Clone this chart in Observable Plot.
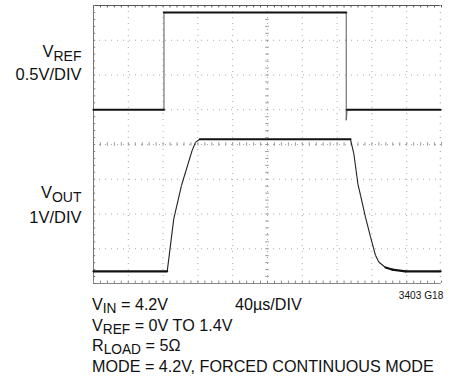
<!DOCTYPE html>
<html><head><meta charset="utf-8">
<script src="https://cdn.jsdelivr.net/npm/d3@7"></script>
<script src="https://cdn.jsdelivr.net/npm/@observablehq/plot@0.6"></script>
<style>
body{margin:0;background:#fff;}
#wrap{position:relative;width:455px;height:378px;font-family:"Liberation Sans",Arial,Helvetica,sans-serif;color:#111;overflow:hidden;}
#chart{position:absolute;left:0;top:0;}
.note{position:absolute;font-size:17px;line-height:19.5px;white-space:nowrap;transform:scaleX(0.95);transform-origin:0 0;}
.sub{font-size:0.85em;position:relative;top:0.22em;}
.code{position:absolute;font-size:11px;white-space:nowrap;transform:scaleX(0.92);transform-origin:100% 0;}
</style></head><body>
<div id="wrap"><div id="chart"></div>
<div class="note" style="left:92px;top:295px">V<span class="sub">IN</span> = 4.2V<br>V<span class="sub">REF</span> = 0V TO 1.4V<br>R<span class="sub">LOAD</span> = 5Ω<br>MODE = 4.2V, FORCED CONTINUOUS MODE</div>
<div class="note" style="left:235px;top:295px">40µs/DIV</div>
<div class="code" style="right:12px;top:289px">3403 G18</div>
</div>
<script>
// Time axis: 40 µs per division, 10 divisions
const gridX = [0, 40, 80, 120, 160, 200, 240, 280, 320, 360, 400];
// Vertical: 8 divisions
const gridY = [0, 1, 2, 3, 4, 5, 6, 7, 8];
// VREF trace (0.5 V/div), ground at division 5
const vrefT = [0, 81, 81, 290.5, 290.5, 291.5, 399];
const vrefV = [0, 0, 1.4, 1.4, -0.15, 0, 0];
// VOUT trace (1 V/div), ground at division 0.35
const voutT = [0, 84.7, 92.3, 101.1, 113.4, 117.2, 122.2, 295.4, 299.2, 304, 306.9, 312.6, 318.4, 324.1, 327.9, 335.6, 343.3, 358.6, 399];
const voutV = [0, 0, 1.52, 2.47, 3.48, 3.71, 3.8, 3.8, 3.39, 2.5, 2.19, 1.56, 0.99, 0.46, 0.27, 0.11, 0.05, 0, 0];
const labelText = ["VREF", "0.5V/DIV", "VOUT", "1V/DIV"];
const labelDiv = [6.66, 6.0, 2.6, 1.9];

const vrefGround = 5, vrefScale = 0.5;
const voutGround = 0.35, voutScale = 1;
const vrefRows = vrefT.map((t, i) => ({t, d: vrefGround + vrefV[i] / vrefScale}));
const voutRows = voutT.map((t, i) => ({t, d: voutGround + voutV[i] / voutScale}));
const labels = labelText.map((text, i) => ({text, y: labelDiv[i]}));

// split each trace into segments: flat parts drawn heavier (noisy trace look), fast edges thin
function segments(rows, name) {
  const out = [];
  for (let i = 1; i < rows.length; i++) {
    const a = rows[i - 1], b = rows[i];
    const dt = b.t - a.t, dd = Math.abs(b.d - a.d);
    const flat = dt > 0 && dd / dt < 0.012;
    out.push({name, t1: a.t, d1: a.d, t2: b.t, d2: b.d, flat});
  }
  return out;
}
const segs = segments(vrefRows, "VREF").concat(segments(voutRows, "VOUT"));

const minorX = d3.range(0, 400.01, 8);
const minorY = d3.range(0, 8.001, 0.2);
const inner = v => v > 0 && v < 8;

const chart = Plot.plot({
  width: 455, height: 290,
  marginLeft: 93, marginRight: 14, marginTop: 5, marginBottom: 7,
  x: {domain: [0, 400], axis: null},
  y: {domain: [0, 8], axis: null},
  style: {fontFamily: '"Liberation Sans",Arial,Helvetica,sans-serif', fontSize: "16.5px", color: "#111", background: "white"},
  marks: [
    Plot.ruleX(gridX.slice(1, -1), {stroke: "#aaa", strokeDasharray: "1,5"}),
    Plot.ruleY(gridY.filter(inner), {stroke: "#aaa", strokeDasharray: "1,5"}),
    // center graticule minor ticks
    Plot.ruleX(minorX, {y1: 3.95, y2: 4.05, stroke: "#999"}),
    Plot.ruleY(minorY, {x1: 198, x2: 202, stroke: "#999"}),
    // frame edges
    Plot.ruleY([8], {stroke: "#555"}),
    Plot.ruleY([0], {stroke: "#888"}),
    Plot.ruleX([0], {stroke: "#777"}),
    Plot.ruleX(minorX, {y1: 8, y2: 7.93, stroke: "#555"}),
    Plot.ruleX(minorX, {y1: 0, y2: 0.07, stroke: "#888"}),
    Plot.ruleY(minorY, {x1: 0, x2: 2.5, stroke: "#777"}),
    Plot.ruleY(minorY, {x1: 398.5, x2: 400, stroke: "#aaa"}),
    // traces
    Plot.link(segs.filter(s => !s.flat), {x1: "t1", y1: "d1", x2: "t2", y2: "d2", stroke: s => s.name === "VREF" ? "#666" : "#222", strokeWidth: 1.1}),
    Plot.link(segs.filter(s => s.flat), {x1: "t1", y1: "d1", x2: "t2", y2: "d2", stroke: "#111", strokeWidth: 2.1, strokeLinecap: "round"}),
    // channel labels
    Plot.text(labels, {frameAnchor: "left", y: "y", text: "text", textAnchor: "end", dx: -12, fill: "#111"})
  ]
});
document.getElementById("chart").appendChild(chart);
// subscripts on channel names
d3.select(chart).selectAll("text").each(function() {
  const s = this.textContent;
  const m = s.match(/^V(REF|OUT)$/);
  if (m) {
    const el = d3.select(this);
    el.text("V");
    el.append("tspan").attr("dy", 4).attr("font-size", "0.85em").text(m[1]);
  }
});
</script>
</body></html>
